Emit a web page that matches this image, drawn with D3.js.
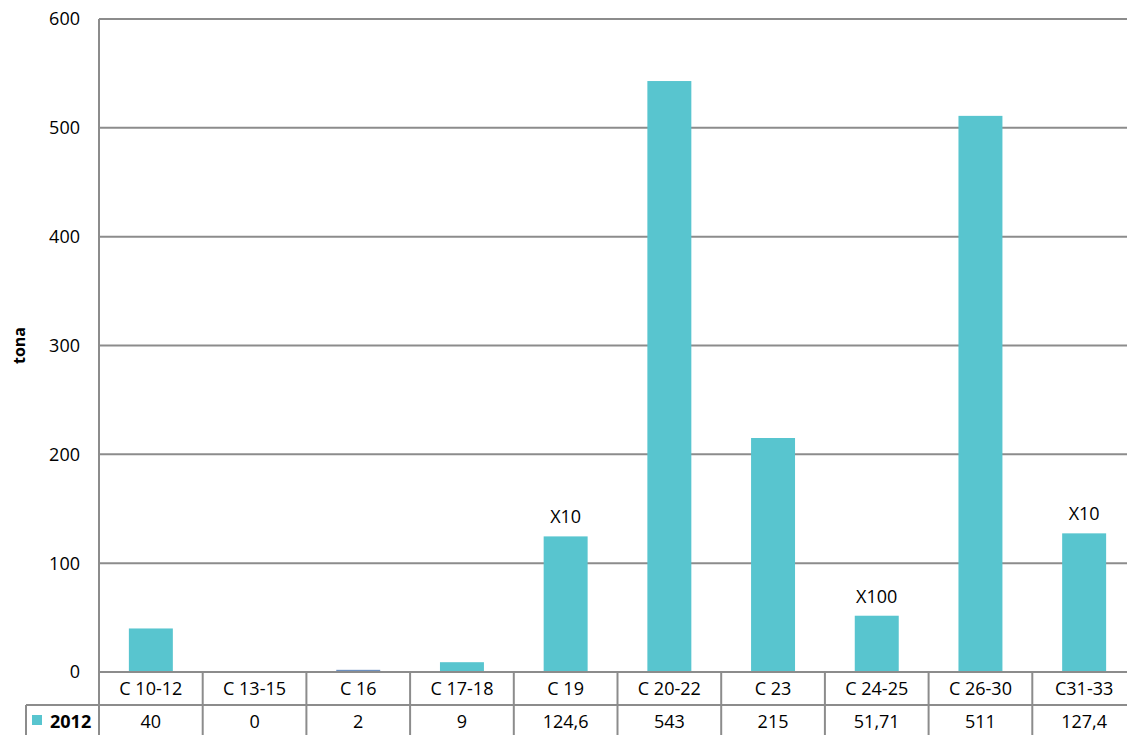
<!doctype html>
<html lang="en">
  <head>
    <meta charset="utf-8">
    <title>tona 2012</title>
    <style>
      body { margin: 0; background: #fff; }
      svg { display: block; font-family: "Open Sans", sans-serif; }
    </style>
  </head>
  <body>
    <script src="https://cdn.jsdelivr.net/npm/d3@7"></script>
    <script>

    // data
    const categories = ["C 10-12", "C 13-15", "C 16", "C 17-18", "C 19", "C 20-22", "C 23", "C 24-25", "C 26-30", "C31-33"];
    const values     = [40, 0, 2, 9, 124.6, 543, 215, 51.71, 511, 127.4];
    const valueText  = ["40", "0", "2", "9", "124,6", "543", "215", "51,71", "511", "127,4"];
    const notes      = ["", "", "", "", "X10", "", "", "X100", "", "X10"];
    const yTicks     = [0, 100, 200, 300, 400, 500, 600];
    const seriesName = "2012";

    const width = 1127, height = 735;
    const plotLeft = 99, plotTop = 19, plotBottom = 672;
    const step = 103.7;
    const rowH = 33;
    const gridColor = "#8c8c8c";
    const barColor = "#58c5cf";
    const oddColor = "#6b8fbf";   // C 16 bar is drawn in a darker blue

    const svg = d3.select("body").append("svg")
        .attr("width", width)
        .attr("height", height);

    const x = d3.scaleBand()
        .domain(categories)
        .range([plotLeft, plotLeft + step * categories.length])
        .paddingInner(0.576)
        .paddingOuter(0.288);

    const y = d3.scaleLinear()
        .domain([0, 600])
        .range([plotBottom, plotTop]);

    // gridlines
    svg.append("g")
      .selectAll("line")
      .data(yTicks)
      .join("line")
        .attr("x1", plotLeft)
        .attr("x2", width)
        .attr("y1", d => y(d))
        .attr("y2", d => y(d))
        .attr("stroke", gridColor)
        .attr("stroke-width", 2);

    // tick labels
    svg.append("g")
      .selectAll("text")
      .data(yTicks)
      .join("text")
        .attr("x", 80)
        .attr("y", d => y(d))
        .attr("dy", "0.36em")
        .attr("text-anchor", "end")
        .style("font-size", "18px")
        .text(d => d);

    svg.append("text")
      .attr("transform", `translate(25,${(plotTop + plotBottom) / 2}) rotate(-90)`)
      .attr("text-anchor", "middle")
      .style("font-size", "16px")
      .style("font-weight", "bold")
      .text("tona");

    // bars
    svg.append("g")
      .selectAll("rect")
      .data(values)
      .join("rect")
        .attr("x", (d, i) => x(categories[i]))
        .attr("width", x.bandwidth())
        .attr("y", d => y(d))
        .attr("height", d => plotBottom - y(d))
        .attr("fill", (d, i) => i === 2 ? oddColor : barColor);

    // multiplier notes
    svg.append("g")
      .selectAll("text")
      .data(notes)
      .join("text")
        .attr("x", (d, i) => x(categories[i]) + x.bandwidth() / 2)
        .attr("y", (d, i) => y(values[i]) - 13)
        .attr("text-anchor", "middle")
        .style("font-size", "18px")
        .text(d => d);

    // data table
    const table = svg.append("g");
    const edges = d3.range(categories.length + 1).map(i => plotLeft + i * step);

    table.append("line")
      .attr("x1", plotLeft).attr("x2", width)
      .attr("y1", plotBottom).attr("y2", plotBottom)
      .attr("stroke", gridColor).attr("stroke-width", 2);

    table.append("line")
      .attr("x1", 26).attr("x2", width)
      .attr("y1", plotBottom + rowH).attr("y2", plotBottom + rowH)
      .attr("stroke", gridColor).attr("stroke-width", 2);

    table.selectAll("line.col")
      .data(edges)
      .join("line")
        .attr("class", "col")
        .attr("x1", d => d).attr("x2", d => d)
        .attr("y1", (d, i) => i === 0 ? plotTop : plotBottom)
        .attr("y2", height)
        .attr("stroke", gridColor).attr("stroke-width", 2);

    table.append("line")
      .attr("x1", 26).attr("x2", 26)
      .attr("y1", plotBottom + rowH).attr("y2", height)
      .attr("stroke", gridColor).attr("stroke-width", 2);

    table.selectAll("text.cat")
      .data(categories)
      .join("text")
        .attr("class", "cat")
        .attr("x", d => x(d) + x.bandwidth() / 2)
        .attr("y", plotBottom + rowH / 2)
        .attr("dy", "0.36em")
        .attr("text-anchor", "middle")
        .style("font-size", "18px")
        .text(d => d);

    table.selectAll("text.val")
      .data(valueText)
      .join("text")
        .attr("class", "val")
        .attr("x", (d, i) => x(categories[i]) + x.bandwidth() / 2)
        .attr("y", plotBottom + rowH * 1.5)
        .attr("dy", "0.36em")
        .attr("text-anchor", "middle")
        .style("font-size", "18px")
        .text(d => d);

    // legend key
    table.append("rect")
      .attr("x", 32).attr("y", plotBottom + rowH + 10)
      .attr("width", 10).attr("height", 10)
      .attr("fill", barColor);

    table.append("text")
      .attr("x", 50)
      .attr("y", plotBottom + rowH * 1.5)
      .attr("dy", "0.36em")
      .style("font-size", "18px")
      .style("font-weight", "bold")
      .text(seriesName);

    </script>
  </body>
</html>
